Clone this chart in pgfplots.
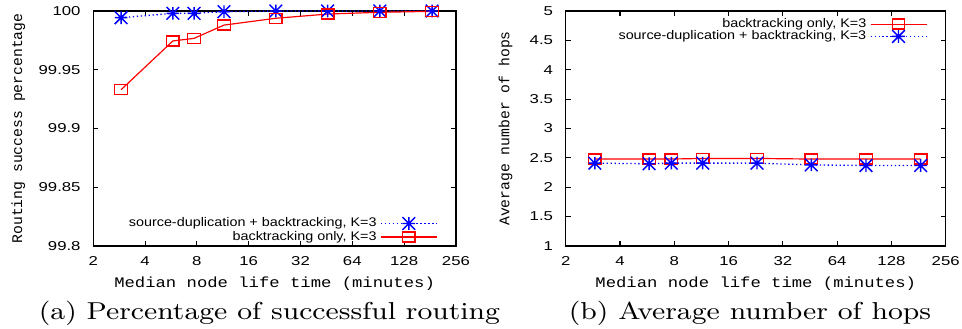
\documentclass[border=0pt]{standalone}
\usepackage{fontspec}
\usepackage{pgfplots}
\pgfplotsset{compat=1.18}
\newfontfamily\tickfont[FakeStretch=1.3]{Liberation Sans}
\newfontfamily\legfont[FakeStretch=1.15]{Liberation Sans}
\newfontfamily\xlabfont[FakeStretch=1.18]{Liberation Mono}
\newfontfamily\ylabfont{Liberation Mono}
\newfontfamily\capfont[FakeStretch=1.18]{Latin Modern Roman}

\pgfdeclareplotmark{gpstar}{%
 \pgfpathmoveto{\pgfqpoint{-\pgfplotmarksize}{0pt}}\pgfpathlineto{\pgfqpoint{\pgfplotmarksize}{0pt}}%
 \pgfpathmoveto{\pgfqpoint{0pt}{-\pgfplotmarksize}}\pgfpathlineto{\pgfqpoint{0pt}{\pgfplotmarksize}}%
 \pgfpathmoveto{\pgfqpoint{-\pgfplotmarksize}{-\pgfplotmarksize}}\pgfpathlineto{\pgfqpoint{\pgfplotmarksize}{\pgfplotmarksize}}%
 \pgfpathmoveto{\pgfqpoint{-\pgfplotmarksize}{\pgfplotmarksize}}\pgfpathlineto{\pgfqpoint{\pgfplotmarksize}{-\pgfplotmarksize}}%
 \pgfusepathqstroke}
\pgfdeclareplotmark{gpbox}{%
 \pgfpathrectangle{\pgfqpoint{-1.25\pgfplotmarksize}{-\pgfplotmarksize}}{\pgfqpoint{2.5\pgfplotmarksize}{2\pgfplotmarksize}}%
 \pgfusepathqstroke}

\pgfplotsset{
  gpaxis/.style={
    scale only axis,
    height=89.3pt,
    xmin=2, xmax=256,
    xtick={2,4,8,16,32,64,128,256},
    xticklabels={2,4,8,16,32,64,128,256},
    axis line style={line width=0.55pt},
    major tick style={line width=0.4pt, black},
    major tick length=1.9pt,
    tick align=inside,
    minor tick num=0,
    /pgf/number format/assume math mode=true,
    tick label style={font=\tickfont\fontsize{4.9}{5.5}\selectfont},
    xticklabel style={yshift=-0.6pt},
    yticklabel style={xshift=-1.3pt},
    clip=false,
    legend cell align=right,
    legend plot pos=right,
    legend style={draw=none, fill=none, font=\legfont\fontsize{4.75}{5.5}\selectfont,
      inner sep=0pt, column sep=1pt,
      nodes={inner sep=0.4pt, text height=3.4pt, text depth=0.9pt}},
    legend image code/.code={\draw[mark repeat=2,mark phase=2,##1] plot coordinates {(0pt,0pt)(10.6pt,0pt)(21.3pt,0pt)};},
    xlabel={\xlabfont\fontsize{5.55}{6}\selectfont Median node life time (minutes)},
    xlabel style={at={(axis description cs:0.5,-0.1624)}, anchor=center},
  },
  redser/.style={red, line width=0.45pt, mark=gpbox, mark size=1.9pt, mark options={solid, line width=0.5pt}},
  blueser/.style={blue, densely dotted, line width=0.5pt, mark=gpstar, mark size=2.4pt, mark options={solid, line width=0.55pt}},
}

\begin{document}
\begin{tikzpicture}
\useasboundingbox (0,0) rectangle (365.56pt,125.02pt);

\begin{axis}[xmode=log, log basis x=2, gpaxis,
  at={(35.45pt,31.54pt)}, anchor=south west,
  width=137.8pt,
  ymin=99.8, ymax=100,
  ytick={99.8,99.85,99.9,99.95,100},
  yticklabels={99.8,99.85,99.9,99.95,100},
  ylabel={\ylabfont\fontsize{5.6}{6}\selectfont Routing success percentage},
  ylabel style={at={(axis description cs:-0.2066,0.5)}, anchor=center},
  legend style={at={(axis description cs:0.951,0.0077)}, anchor=south east, row sep=0pt},
]
\addplot[blueser] coordinates {(2.9,99.9943)(5.8,99.998)(7.7,99.998)(11.5,99.9994)(23,100)(46,100)(92.5,100)(186,100)};
\addlegendentry{source-duplication + backtracking, K=3}
\addplot[redser] coordinates {(2.9,99.933)(5.8,99.9745)(7.7,99.9767)(11.5,99.988)(23,99.9938)(46,99.9974)(92.5,99.9989)(186,99.9997)};
\addlegendentry{backtracking only, K=3}
\end{axis}

\begin{axis}[xmode=log, log basis x=2, gpaxis,
  at={(214.97pt,31.54pt)}, anchor=south west,
  width=144.4pt,
  ymin=1, ymax=5,
  ytick={1,1.5,2,2.5,3,3.5,4,4.5,5},
  yticklabels={1,1.5,2,2.5,3,3.5,4,4.5,5},
  ylabel={\ylabfont\fontsize{5.6}{6}\selectfont Average number of hops},
  ylabel style={at={(axis description cs:-0.158,0.5)}, anchor=center},
  legend style={at={(axis description cs:0.953,0.975)}, anchor=north east, row sep=-0.4pt},
]
\addplot[redser] coordinates {(2.9,2.48)(5.8,2.48)(7.7,2.48)(11.5,2.49)(23,2.49)(46,2.48)(92.5,2.48)(186,2.48)};
\addlegendentry{backtracking only, K=3}
\addplot[blueser] coordinates {(2.9,2.41)(5.8,2.40)(7.7,2.41)(11.5,2.41)(23,2.41)(46,2.38)(92.5,2.37)(186,2.37)};
\addlegendentry{source-duplication + backtracking, K=3}
\end{axis}

\node[anchor=base, inner sep=0pt, font=\capfont\fontsize{9.3}{11}\selectfont] at (102.4pt,3.7pt) {(a) Percentage of successful routing};
\node[anchor=base, inner sep=0pt, font=\capfont\fontsize{9.3}{11}\selectfont] at (285pt,3.7pt) {(b) Average number of hops};
\end{tikzpicture}
\end{document}
